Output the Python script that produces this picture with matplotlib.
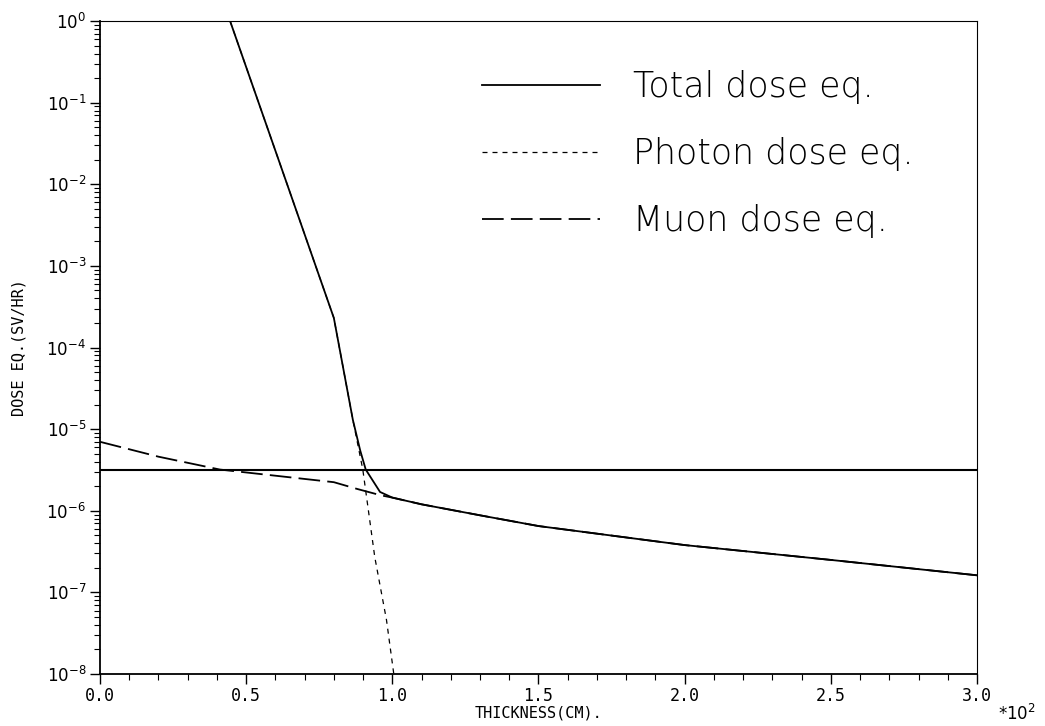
import numpy as np
import matplotlib.pyplot as plt
from matplotlib.ticker import FixedLocator, LogLocator, NullFormatter

# thickness in cm, dose eq. in Sv/h
total_x = [44.5, 80, 86.5, 89, 90.9, 95.8, 100, 110, 130, 150, 200, 250, 300]
total_y = [1.0, 2.3e-4, 1.3e-5, 5.5e-6, 3.2e-6, 1.7e-6, 1.45e-6, 1.2e-6, 8.8e-7, 6.5e-7, 3.8e-7, 2.5e-7, 1.62e-7]

photon_x = [44.5, 80, 86.5, 89.9, 94, 98, 100.5]
photon_y = [1.0, 2.3e-4, 1.3e-5, 3.2e-6, 2.7e-7, 4.6e-8, 1.0e-8]

muon_x = [0, 20, 41, 80, 88, 96, 100, 110, 130, 150, 200, 250, 300]
muon_y = [7.0e-6, 4.6e-6, 3.2e-6, 2.24e-6, 1.85e-6, 1.55e-6, 1.45e-6, 1.2e-6, 8.8e-7, 6.5e-7, 3.8e-7, 2.5e-7, 1.62e-7]

limit = 3.16e-6

x_ticks = [0, 50, 100, 150, 200, 250, 300]
x_labels = ['0.0', '0.5', '1.0', '1.5', '2.0', '2.5', '3.0']
y_ticks = [1e0, 1e-1, 1e-2, 1e-3, 1e-4, 1e-5, 1e-6, 1e-7, 1e-8]
y_labels = ['$10^{0}$', '$10^{-1}$', '$10^{-2}$', '$10^{-3}$', '$10^{-4}$',
            '$10^{-5}$', '$10^{-6}$', '$10^{-7}$', '$10^{-8}$']

fig = plt.figure(figsize=(10.45, 7.26), dpi=100)
ax = fig.add_axes([0.0957, 0.0716, 0.8392, 0.8994])

ax.plot(total_x, total_y, color='black', lw=1.3, label='Total dose eq.')
ax.plot(photon_x, photon_y, color='black', lw=0.9, linestyle=(0, (4, 4)), label='Photon dose eq.')
ax.plot(muon_x, muon_y, color='black', lw=1.3, linestyle=(0, (12, 4)), label='Muon dose eq.')
ax.axhline(limit, color='black', lw=1.5)

ax.set_yscale('log')
ax.set_xlim(0, 300)
ax.set_ylim(1e-8, 1e0)

ax.xaxis.set_major_locator(FixedLocator(x_ticks))
ax.set_xticklabels(x_labels, family='DejaVu Sans Mono', fontsize=12)
ax.xaxis.set_minor_locator(FixedLocator(np.arange(0, 301, 10)))
ax.yaxis.set_major_locator(FixedLocator(y_ticks))
ax.set_yticklabels(y_labels, fontsize=12)
ax.yaxis.set_minor_locator(LogLocator(base=10, subs=np.arange(2, 10)))
ax.yaxis.set_minor_formatter(NullFormatter())

ax.tick_params(which='major', direction='out', length=7, width=1, pad=3)
ax.tick_params(which='minor', direction='out', length=4, width=0.8)
ax.tick_params(axis='x', which='major', pad=2)
for side in ['top', 'right']:
    ax.spines[side].set_linewidth(0.8)
for side in ['left', 'bottom']:
    ax.spines[side].set_linewidth(1.3)

ax.set_xlabel('THICKNESS(CM).', family='DejaVu Sans Mono', fontsize=11, labelpad=1)
ax.set_ylabel('DOSE EQ.(SV/HR)', family='DejaVu Sans Mono', fontsize=11, labelpad=14)
fig.text(0.955, 0.008, '$*10^{2}$', fontsize=12)

ax.legend(loc='upper left', bbox_to_anchor=(0.416, 0.952), frameon=False,
          handlelength=3.4, handletextpad=0.95, labelspacing=0.95, borderpad=0,
          prop={'family': 'DejaVu Sans', 'size': 25, 'weight': 'light'})

plt.savefig('out.png', dpi=100)
